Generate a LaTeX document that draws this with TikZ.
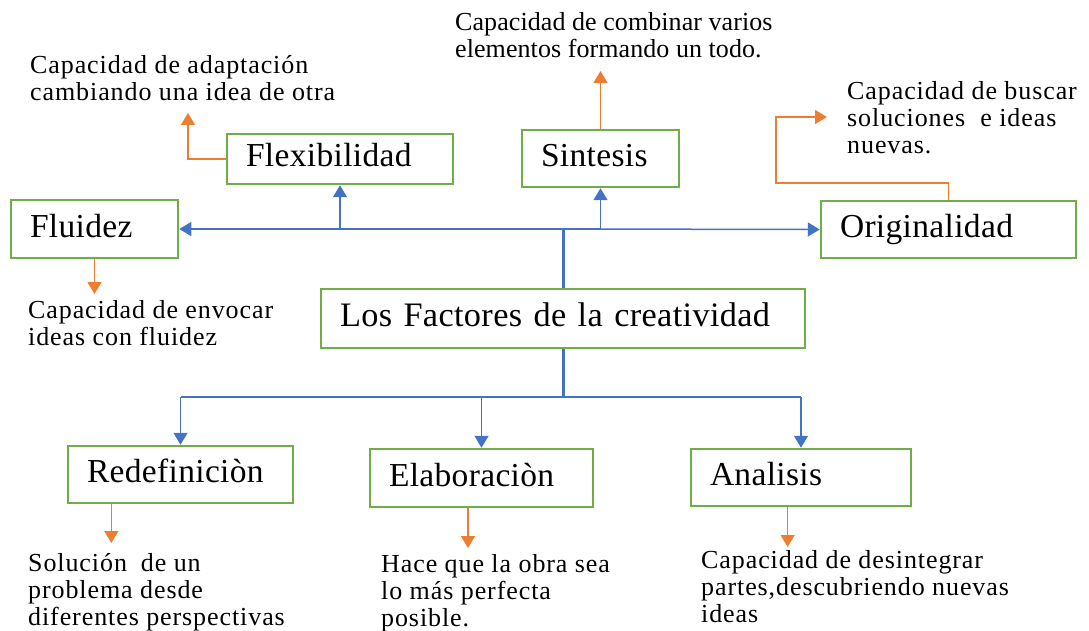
\documentclass[tikz,border=0pt]{standalone}
\usepackage{fontspec}
\setmainfont{Liberation Serif}
\usetikzlibrary{arrows.meta,calc}
\definecolor{boxgreen}{RGB}{112,173,71}
\definecolor{lineblue}{RGB}{68,114,196}
\definecolor{lineorange}{RGB}{237,125,49}
\tikzset{
 box/.style={draw=boxgreen, line width=2.5pt, inner xsep=19pt, inner ysep=0pt, align=left,
   text height=20pt, text depth=4pt, font=\fontsize{33.5}{36}\selectfont\addfontfeature{LetterSpace=1}},
 desc/.style={anchor=north west, inner sep=0pt, align=left, font=\fontsize{26}{27.2}\selectfont\addfontfeature{LetterSpace=3.5}},
 bl/.style={draw=lineblue, line width=1.5pt},
 bltrunk/.style={draw=lineblue, line width=3pt},
 blarr/.style={bl, -{Triangle[width=14pt,length=12pt]}},
 orarr/.style={draw=lineorange, line width=1.3pt, -{Triangle[width=14pt,length=12pt]}},
}
\begin{document}
\begin{tikzpicture}[x=1pt,y=-1pt]
\useasboundingbox (0,0) rectangle (1089,631);
% boxes
\node[box, text width=188pt, minimum height=50pt] (flex) at (340,159) {Flexibilidad};
\node[box, text width=129pt, minimum height=58pt] (flu) at (94.5,229) {Fluidez};
\node[box, text width=119pt, minimum height=57pt] (sin) at (600.5,158.5) {Sintesis};
\node[box, text width=217pt, minimum height=57pt] (orig) at (948.5,229.5) {Originalidad};
\node[box, text width=446pt, minimum height=59pt, font=\fontsize{34.3}{37}\selectfont\addfontfeature{LetterSpace=1}] (fac) at (563,318.5) {Los Factores de la creatividad};
\node[box, text width=187pt, minimum height=57pt] (red) at (180.5,474.5) {Redefiniciòn};
\node[box, text width=185pt, minimum height=58pt] (ela) at (481.5,478) {Elaboraciòn};
\node[box, text width=182pt, minimum height=57pt] (ana) at (801,477.5) {Analisis};
% descriptions
\node[desc] (flexd) at (30,55) {Capacidad de adaptación\\cambiando una idea de otra};
\node[desc, font=\fontsize{26}{27.2}\selectfont\addfontfeature{LetterSpace=0.3}] (sind) at (455,12) {Capacidad de combinar varios\\elementos formando un todo.};
\node[desc] (origd) at (847,81) {Capacidad de buscar\\soluciones\hspace{0.3em} e ideas\\nuevas.};
\node[desc] (flud) at (28,300) {Capacidad de envocar\\ideas con fluidez};
\node[desc] (redd) at (28,553) {Solución\hspace{0.25em} de un\\problema desde\\diferentes perspectivas};
\node[desc] (elad) at (381,554) {Hace que la obra sea\\lo más perfecta\\posible.};
\node[desc] (anad) at (701,550) {Capacidad de desintegrar\\partes,descubriendo nuevas\\ideas};
% blue connectors, top
\coordinate (tj) at (563,229);
\draw[bltrunk] (fac.north) -- (tj);
\draw[blarr] (tj) -- (flu.east);
\draw[blarr] (flex.south |- tj) -- (flex.south);
\draw[blarr] (tj) -| (sin.south);
\draw[blarr] (tj) -- (orig.west);
% blue connectors, bottom
\coordinate (bj) at (563,397);
\draw[bltrunk] (fac.south) -- (bj);
\draw[bl] (red.north |- bj) -- (ana.north |- bj);
\draw[blarr] (red.north |- bj) -- (red.north);
\draw[blarr] (ela.north |- bj) -- (ela.north);
\draw[blarr] (ana.north |- bj) -- (ana.north);
% orange connectors
\coordinate (flexend) at (188,113);
\draw[orarr] (flex.west) -| (flexend);
\coordinate (fluend) at (94.5,294);
\draw[orarr] (flu.south) -- (fluend);
\coordinate (sinend) at (600.5,71);
\draw[orarr] (sin.north) -- (sinend);
\coordinate (ob) at (776,183);
\coordinate (origend) at (827,117);
\draw[orarr] (orig.north) |- (ob) |- (origend);
\coordinate (reds) at ($(red.south west)!0.196!(red.south east)$);
\coordinate (redend) at (reds |- 0,543);
\draw[orarr] (reds) -- (redend);
\coordinate (elas) at ($(ela.south west)!0.44!(ela.south east)$);
\coordinate (elaend) at (elas |- 0,548);
\draw[orarr] (elas) -- (elaend);
\coordinate (anas) at ($(ana.south west)!0.44!(ana.south east)$);
\coordinate (anaend) at (anas |- 0,547);
\draw[orarr] (anas) -- (anaend);
\end{tikzpicture}
\end{document}
